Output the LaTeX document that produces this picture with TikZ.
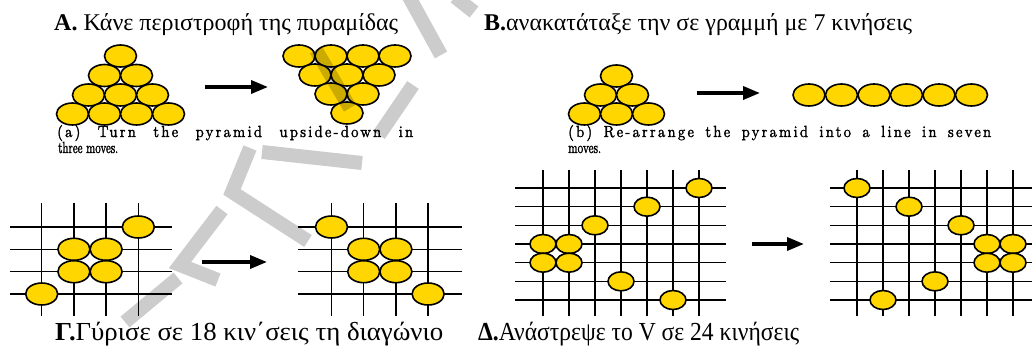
\documentclass[tikz,border=0pt]{standalone}
\usepackage{fontspec}
\setmainfont{Liberation Serif}
\newfontfamily\capfont{Latin Modern Roman}[FakeBold=2]
\newfontfamily\capfontwide{Latin Modern Roman}[LetterSpace=15,FakeBold=2]
\usetikzlibrary{shapes.geometric,arrows.meta}
\definecolor{pegyellow}{RGB}{255,214,0}
% set a line of text and stretch it horizontally to a given width
\newsavebox\fitbox
\newcommand\fitwidth[2]{\sbox\fitbox{#2}\pgfmathsetmacro\fitfactor{#1/\wd\fitbox}\scalebox{\fitfactor}[1]{\usebox\fitbox}}
% caption lines are set a little taller than wide
\newcommand\tallcap[1]{\scalebox{1}[1.4]{#1}}
% first caption lines: wide letters, justified to the given width
\newcommand\widecap[2]{\scalebox{1.3}[1.4]{\makebox[\dimexpr #1pt*10/13\relax][s]{#2}}}
\begin{document}
\begin{tikzpicture}[x=1pt,y=-1pt,
  peg/.style={ellipse, draw=black, line width=1.6pt, fill=pegyellow,
    minimum width=32pt, minimum height=22pt, inner sep=0pt},
  smallpeg/.style={peg, minimum width=26pt, minimum height=19pt},
  gridline/.style={line width=1.3pt},
  movearrow/.style={line width=3.5pt, -{Triangle[length=17pt,width=13pt]}},
  title/.style={anchor=base west, inner sep=0pt, font=\fontsize{24}{24}\selectfont},
  bigtitle/.style={anchor=base west, inner sep=0pt, font=\fontsize{26}{26}\selectfont},
  caption/.style={anchor=base west, inner sep=0pt, font=\capfont\fontsize{11.5}{16}\selectfont},
  widecaption/.style={caption, font=\capfontwide\fontsize{11.5}{16}\selectfont},
  stamp/.style={line width=14pt, black, opacity=0.2, line join=miter}]
\useasboundingbox[fill=white] (0,0) rectangle (1032,347);

% ---------- titles ----------
\node[title] (tA) at (54,31) {\fitwidth{344}{\textbf{Α.} Κάνε περιστροφή της πυραμίδας}};
\node[title] (tB) at (484,31) {\fitwidth{428}{\textbf{Β.}ανακατάταξε την σε γραμμή με 7 κινήσεις}};
\node[bigtitle] (tC) at (55,340) {\fitwidth{388}{\textbf{Γ.}Γύρισε σε 18 κιν΄σεις τη διαγώνιο}};
\node[bigtitle] (tD) at (478,340) {\fitwidth{321}{\textbf{Δ.}Ανάστρεψε το V σε 24 κινήσεις}};

% ---------- captions ----------
\node[widecaption] (capA1) at (57,137) {\widecap{356}{(a) Turn the pyramid upside-down in}};
\node[caption] (capA2) at (58,153) {\tallcap{\fitwidth{60}{three moves.}}};
\node[widecaption] (capB1) at (568,137) {\widecap{423}{(b) Re-arrange the pyramid into a line in seven}};
\node[caption] (capB2) at (568,153) {\tallcap{moves.}};

% ---------- (a) pyramid of ten, upright ----------
\foreach \r/\y in {1/56,2/75.5,3/95,4/114}{
  \foreach \k in {1,...,\r}{
    \node[peg] (pa-\r-\k) at ({120.5-16*(\r-1)+32*(\k-1)},\y) {};
  }
}
\coordinate (arA0) at (205,87);
\coordinate (arA1) at (268,87);
\draw[movearrow] (arA0) -- (arA1);
% ---------- (a) pyramid of ten, upside-down ----------
\foreach \r/\y in {1/56,2/75,3/94,4/113}{
  \foreach \k in {\r,...,4}{
    \node[peg] (pb-\r-\k) at ({299+16*(\r-1)+32*(\k-\r)},\y) {};
  }
}

% ---------- (b) pyramid of six and the line ----------
\foreach \r/\y in {1/76,2/95,3/114}{
  \foreach \k in {1,...,\r}{
    \node[peg] (pc-\r-\k) at ({616.5-16*(\r-1)+32*(\k-1)},\y) {};
  }
}
\coordinate (arB0) at (697,93);
\coordinate (arB1) at (760,93);
\draw[movearrow] (arB0) -- (arB1);
\foreach \k in {0,...,5}{
  \node[peg] (pl-\k) at ({809+32.5*\k},95) {};
}

% ---------- (c) flip the diagonal ----------
\foreach \ox/\hx/\hy in {41.7/10/172, 331.5/298/462}{
  \foreach \i in {0,...,3}{
    \draw[gridline] ({\ox+32.2*\i},203) -- ({\ox+32.2*\i},316);
    \draw[gridline] (\hx,{227+22.33*\i}) -- (\hy,{227+22.33*\i});
  }
}
% left board
\node[peg] (c1) at (138.3,227) {};
\node[peg] (c2) at (73.9,249.3) {};
\node[peg] (c3) at (106.1,249.3) {};
\node[peg] (c4) at (73.9,271.7) {};
\node[peg] (c5) at (106.1,271.7) {};
\node[peg] (c6) at (41.7,294) {};
\coordinate (arC0) at (202,262);
\coordinate (arC1) at (267,262);
\draw[movearrow] (arC0) -- (arC1);
% right board
\node[peg] (d1) at (331.5,227) {};
\node[peg] (d2) at (363.7,249.3) {};
\node[peg] (d3) at (395.9,249.3) {};
\node[peg] (d4) at (363.7,271.7) {};
\node[peg] (d5) at (395.9,271.7) {};
\node[peg] (d6) at (428.1,294) {};

% ---------- (d) invert the V ----------
\foreach \ox/\hx/\hy in {543/515/726, 857/830/1032}{
  \foreach \i in {0,...,6}{
    \draw[gridline] ({\ox+26*\i},170) -- ({\ox+26*\i},316);
    \draw[gridline] (\hx,{188+18.67*\i}) -- (\hy,{188+18.67*\i});
  }
}
% left board: column/row index pairs
\foreach \c/\r [count=\n] in {7/1,5/2,3/3,1/4,2/4,1/5,2/5,4/6,6/7}{
  \node[smallpeg] (e\n) at ({543+26*(\c-1)},{188+18.67*(\r-1)}) {};
}
\coordinate (arD0) at (752,244);
\coordinate (arD1) at (804,244);
\draw[movearrow] (arD0) -- (arD1);
% right board
\foreach \c/\r [count=\n] in {1/1,3/2,5/3,6/4,7/4,6/5,7/5,4/6,2/7}{
  \node[smallpeg] (f\n) at ({857+26*(\c-1)},{188+18.67*(\r-1)}) {};
}

% ---------- light grey stamp lettering across the left half ----------
\draw[stamp] (250,148) -- (232,192) -- (308,241);
\draw[stamp] (262,152) -- (362,163);
\draw[stamp] (413,85) -- (379,135);
\draw[stamp] (408,-5) -- (441,55);
\draw[stamp] (455,-3) -- (474,12);
\draw[stamp] (316,50) -- (350,108);
\draw[stamp] (222,210) -- (180,265) -- (218,280);
\draw[stamp] (178,278) -- (125,322);
\end{tikzpicture}
\end{document}
